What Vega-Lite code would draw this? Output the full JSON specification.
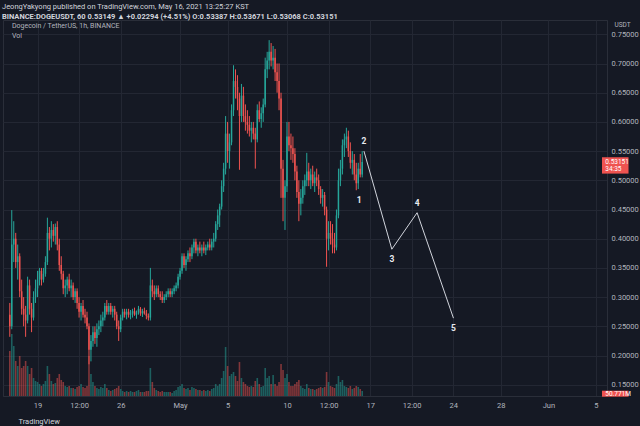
{
"$schema":"https://vega.github.io/schema/vega-lite/v6.json",
"width":604,"height":376,
"autosize":{"type":"none"},
"padding":{"left":3,"top":20,"right":33,"bottom":30},
"background":"#151924",
"config":{"view":{"stroke":"#2a2e39","fill":"#151924"},"font":"Roboto","text":{"font":"Roboto"}},
"title":{"text":"JeongYakyong published on TradingView.com, May 16, 2021 13:25:27 KST","subtitle":"BINANCE:DOGEUSDT, 60  0.53149 ▲ +0.02294 (+4.51%)  O:0.53387  H:0.53671  L:0.53068  C:0.53151","anchor":"start","frame":"group","fontSize":7.5,"fontWeight":"normal","color":"#d1d4dc","subtitleFontSize":7.5,"subtitleColor":"#d1d4dc","subtitleFontWeight":"bold","subtitlePadding":2.5,"offset":0,"dx":-1},
"datasets":{
"candles":[
{"t":"2021-04-16T16:00Z","o":0.27,"h":0.29,"l":0.232,"c":0.25,"v":450},
{"t":"2021-04-16T20:00Z","o":0.25,"h":0.449,"l":0.245,"c":0.39,"v":620},
{"t":"2021-04-17T00:00Z","o":0.39,"h":0.43,"l":0.36,"c":0.40,"v":500},
{"t":"2021-04-17T04:00Z","o":0.40,"h":0.41,"l":0.35,"c":0.36,"v":350},
{"t":"2021-04-17T08:00Z","o":0.36,"h":0.39,"l":0.33,"c":0.37,"v":300},
{"t":"2021-04-17T12:00Z","o":0.37,"h":0.375,"l":0.30,"c":0.31,"v":400},
{"t":"2021-04-17T16:00Z","o":0.31,"h":0.33,"l":0.27,"c":0.28,"v":280},
{"t":"2021-04-17T20:00Z","o":0.28,"h":0.30,"l":0.25,"c":0.27,"v":300},
{"t":"2021-04-18T00:00Z","o":0.27,"h":0.285,"l":0.232,"c":0.26,"v":350},
{"t":"2021-04-18T04:00Z","o":0.26,"h":0.335,"l":0.255,"c":0.32,"v":300},
{"t":"2021-04-18T08:00Z","o":0.32,"h":0.33,"l":0.27,"c":0.28,"v":220},
{"t":"2021-04-18T12:00Z","o":0.28,"h":0.29,"l":0.24,"c":0.265,"v":280},
{"t":"2021-04-18T16:00Z","o":0.265,"h":0.31,"l":0.26,"c":0.30,"v":180},
{"t":"2021-04-18T20:00Z","o":0.30,"h":0.33,"l":0.29,"c":0.315,"v":150},
{"t":"2021-04-19T00:00Z","o":0.315,"h":0.345,"l":0.30,"c":0.33,"v":140},
{"t":"2021-04-19T04:00Z","o":0.33,"h":0.35,"l":0.32,"c":0.345,"v":120},
{"t":"2021-04-19T08:00Z","o":0.345,"h":0.35,"l":0.32,"c":0.33,"v":100},
{"t":"2021-04-19T12:00Z","o":0.33,"h":0.35,"l":0.325,"c":0.34,"v":120},
{"t":"2021-04-19T16:00Z","o":0.34,"h":0.37,"l":0.335,"c":0.36,"v":150},
{"t":"2021-04-19T20:00Z","o":0.36,"h":0.436,"l":0.355,"c":0.41,"v":300},
{"t":"2021-04-20T00:00Z","o":0.41,"h":0.42,"l":0.38,"c":0.40,"v":220},
{"t":"2021-04-20T04:00Z","o":0.40,"h":0.43,"l":0.385,"c":0.415,"v":150},
{"t":"2021-04-20T08:00Z","o":0.415,"h":0.425,"l":0.395,"c":0.405,"v":120},
{"t":"2021-04-20T12:00Z","o":0.405,"h":0.426,"l":0.39,"c":0.42,"v":130},
{"t":"2021-04-20T16:00Z","o":0.42,"h":0.43,"l":0.38,"c":0.39,"v":180},
{"t":"2021-04-20T20:00Z","o":0.39,"h":0.40,"l":0.345,"c":0.355,"v":220},
{"t":"2021-04-21T00:00Z","o":0.355,"h":0.37,"l":0.33,"c":0.34,"v":160},
{"t":"2021-04-21T04:00Z","o":0.34,"h":0.345,"l":0.305,"c":0.315,"v":140},
{"t":"2021-04-21T08:00Z","o":0.315,"h":0.33,"l":0.30,"c":0.32,"v":100},
{"t":"2021-04-21T12:00Z","o":0.32,"h":0.335,"l":0.305,"c":0.33,"v":90},
{"t":"2021-04-21T16:00Z","o":0.33,"h":0.34,"l":0.31,"c":0.315,"v":100},
{"t":"2021-04-21T20:00Z","o":0.315,"h":0.33,"l":0.30,"c":0.32,"v":80},
{"t":"2021-04-22T00:00Z","o":0.32,"h":0.325,"l":0.295,"c":0.30,"v":80},
{"t":"2021-04-22T04:00Z","o":0.30,"h":0.315,"l":0.29,"c":0.31,"v":70},
{"t":"2021-04-22T08:00Z","o":0.31,"h":0.315,"l":0.28,"c":0.29,"v":90},
{"t":"2021-04-22T12:00Z","o":0.29,"h":0.30,"l":0.265,"c":0.275,"v":100},
{"t":"2021-04-22T16:00Z","o":0.275,"h":0.29,"l":0.26,"c":0.285,"v":120},
{"t":"2021-04-22T20:00Z","o":0.285,"h":0.295,"l":0.265,"c":0.27,"v":90},
{"t":"2021-04-23T00:00Z","o":0.27,"h":0.28,"l":0.255,"c":0.265,"v":80},
{"t":"2021-04-23T04:00Z","o":0.265,"h":0.275,"l":0.245,"c":0.25,"v":100},
{"t":"2021-04-23T08:00Z","o":0.25,"h":0.255,"l":0.185,"c":0.21,"v":400},
{"t":"2021-04-23T12:00Z","o":0.21,"h":0.235,"l":0.19,"c":0.225,"v":220},
{"t":"2021-04-23T16:00Z","o":0.225,"h":0.25,"l":0.215,"c":0.24,"v":140},
{"t":"2021-04-23T20:00Z","o":0.24,"h":0.25,"l":0.22,"c":0.23,"v":100},
{"t":"2021-04-24T00:00Z","o":0.23,"h":0.255,"l":0.215,"c":0.245,"v":80},
{"t":"2021-04-24T04:00Z","o":0.245,"h":0.26,"l":0.235,"c":0.25,"v":70},
{"t":"2021-04-24T08:00Z","o":0.25,"h":0.27,"l":0.24,"c":0.26,"v":90},
{"t":"2021-04-24T12:00Z","o":0.26,"h":0.275,"l":0.25,"c":0.265,"v":80},
{"t":"2021-04-24T16:00Z","o":0.265,"h":0.29,"l":0.26,"c":0.285,"v":120},
{"t":"2021-04-24T20:00Z","o":0.285,"h":0.295,"l":0.27,"c":0.275,"v":80},
{"t":"2021-04-25T00:00Z","o":0.275,"h":0.29,"l":0.27,"c":0.285,"v":60},
{"t":"2021-04-25T04:00Z","o":0.285,"h":0.29,"l":0.27,"c":0.275,"v":50},
{"t":"2021-04-25T08:00Z","o":0.275,"h":0.285,"l":0.265,"c":0.28,"v":60},
{"t":"2021-04-25T12:00Z","o":0.28,"h":0.285,"l":0.26,"c":0.27,"v":70},
{"t":"2021-04-25T16:00Z","o":0.27,"h":0.275,"l":0.245,"c":0.25,"v":80},
{"t":"2021-04-25T20:00Z","o":0.25,"h":0.26,"l":0.225,"c":0.245,"v":100},
{"t":"2021-04-26T00:00Z","o":0.245,"h":0.27,"l":0.24,"c":0.265,"v":70},
{"t":"2021-04-26T04:00Z","o":0.265,"h":0.28,"l":0.26,"c":0.275,"v":50},
{"t":"2021-04-26T08:00Z","o":0.275,"h":0.28,"l":0.265,"c":0.27,"v":40},
{"t":"2021-04-26T12:00Z","o":0.27,"h":0.28,"l":0.262,"c":0.275,"v":50},
{"t":"2021-04-26T16:00Z","o":0.275,"h":0.28,"l":0.265,"c":0.27,"v":40},
{"t":"2021-04-26T20:00Z","o":0.27,"h":0.278,"l":0.262,"c":0.272,"v":50},
{"t":"2021-04-27T00:00Z","o":0.272,"h":0.28,"l":0.265,"c":0.276,"v":40},
{"t":"2021-04-27T04:00Z","o":0.276,"h":0.282,"l":0.268,"c":0.27,"v":40},
{"t":"2021-04-27T08:00Z","o":0.27,"h":0.277,"l":0.263,"c":0.274,"v":50},
{"t":"2021-04-27T12:00Z","o":0.274,"h":0.285,"l":0.27,"c":0.28,"v":60},
{"t":"2021-04-27T16:00Z","o":0.28,"h":0.283,"l":0.268,"c":0.272,"v":40},
{"t":"2021-04-27T20:00Z","o":0.272,"h":0.28,"l":0.266,"c":0.276,"v":40},
{"t":"2021-04-28T00:00Z","o":0.276,"h":0.282,"l":0.27,"c":0.272,"v":40},
{"t":"2021-04-28T04:00Z","o":0.272,"h":0.278,"l":0.262,"c":0.268,"v":50},
{"t":"2021-04-28T08:00Z","o":0.268,"h":0.272,"l":0.26,"c":0.265,"v":50},
{"t":"2021-04-28T12:00Z","o":0.265,"h":0.35,"l":0.26,"c":0.32,"v":280},
{"t":"2021-04-28T16:00Z","o":0.32,"h":0.33,"l":0.30,"c":0.31,"v":140},
{"t":"2021-04-28T20:00Z","o":0.31,"h":0.32,"l":0.295,"c":0.305,"v":80},
{"t":"2021-04-29T00:00Z","o":0.305,"h":0.32,"l":0.30,"c":0.315,"v":60},
{"t":"2021-04-29T04:00Z","o":0.315,"h":0.32,"l":0.30,"c":0.305,"v":50},
{"t":"2021-04-29T08:00Z","o":0.305,"h":0.31,"l":0.295,"c":0.30,"v":40},
{"t":"2021-04-29T12:00Z","o":0.30,"h":0.31,"l":0.29,"c":0.295,"v":50},
{"t":"2021-04-29T16:00Z","o":0.295,"h":0.305,"l":0.29,"c":0.30,"v":40},
{"t":"2021-04-29T20:00Z","o":0.30,"h":0.31,"l":0.295,"c":0.305,"v":40},
{"t":"2021-04-30T00:00Z","o":0.305,"h":0.315,"l":0.30,"c":0.31,"v":40},
{"t":"2021-04-30T04:00Z","o":0.31,"h":0.315,"l":0.30,"c":0.305,"v":40},
{"t":"2021-04-30T08:00Z","o":0.305,"h":0.315,"l":0.30,"c":0.31,"v":30},
{"t":"2021-04-30T12:00Z","o":0.31,"h":0.32,"l":0.305,"c":0.315,"v":50},
{"t":"2021-04-30T16:00Z","o":0.315,"h":0.325,"l":0.31,"c":0.32,"v":60},
{"t":"2021-04-30T20:00Z","o":0.32,"h":0.34,"l":0.315,"c":0.335,"v":90},
{"t":"2021-05-01T00:00Z","o":0.335,"h":0.35,"l":0.33,"c":0.345,"v":100},
{"t":"2021-05-01T04:00Z","o":0.345,"h":0.375,"l":0.34,"c":0.37,"v":120},
{"t":"2021-05-01T08:00Z","o":0.37,"h":0.375,"l":0.35,"c":0.355,"v":80},
{"t":"2021-05-01T12:00Z","o":0.355,"h":0.37,"l":0.345,"c":0.365,"v":70},
{"t":"2021-05-01T16:00Z","o":0.365,"h":0.38,"l":0.36,"c":0.375,"v":80},
{"t":"2021-05-01T20:00Z","o":0.375,"h":0.385,"l":0.36,"c":0.37,"v":60},
{"t":"2021-05-02T00:00Z","o":0.37,"h":0.39,"l":0.365,"c":0.385,"v":90},
{"t":"2021-05-02T04:00Z","o":0.385,"h":0.40,"l":0.375,"c":0.395,"v":80},
{"t":"2021-05-02T08:00Z","o":0.395,"h":0.40,"l":0.375,"c":0.38,"v":70},
{"t":"2021-05-02T12:00Z","o":0.38,"h":0.39,"l":0.37,"c":0.385,"v":60},
{"t":"2021-05-02T16:00Z","o":0.385,"h":0.395,"l":0.375,"c":0.38,"v":60},
{"t":"2021-05-02T20:00Z","o":0.38,"h":0.39,"l":0.37,"c":0.385,"v":50},
{"t":"2021-05-03T00:00Z","o":0.385,"h":0.395,"l":0.375,"c":0.38,"v":60},
{"t":"2021-05-03T04:00Z","o":0.38,"h":0.39,"l":0.372,"c":0.385,"v":50},
{"t":"2021-05-03T08:00Z","o":0.385,"h":0.395,"l":0.38,"c":0.39,"v":60},
{"t":"2021-05-03T12:00Z","o":0.39,"h":0.40,"l":0.38,"c":0.385,"v":50},
{"t":"2021-05-03T16:00Z","o":0.385,"h":0.40,"l":0.38,"c":0.395,"v":70},
{"t":"2021-05-03T20:00Z","o":0.395,"h":0.41,"l":0.385,"c":0.40,"v":80},
{"t":"2021-05-04T00:00Z","o":0.40,"h":0.43,"l":0.395,"c":0.425,"v":120},
{"t":"2021-05-04T04:00Z","o":0.425,"h":0.45,"l":0.415,"c":0.44,"v":100},
{"t":"2021-05-04T08:00Z","o":0.44,"h":0.46,"l":0.42,"c":0.455,"v":120},
{"t":"2021-05-04T12:00Z","o":0.455,"h":0.50,"l":0.45,"c":0.49,"v":180},
{"t":"2021-05-04T16:00Z","o":0.49,"h":0.53,"l":0.48,"c":0.52,"v":250},
{"t":"2021-05-04T20:00Z","o":0.52,"h":0.61,"l":0.51,"c":0.58,"v":490},
{"t":"2021-05-05T00:00Z","o":0.58,"h":0.60,"l":0.53,"c":0.55,"v":300},
{"t":"2021-05-05T04:00Z","o":0.55,"h":0.58,"l":0.52,"c":0.565,"v":200},
{"t":"2021-05-05T08:00Z","o":0.565,"h":0.63,"l":0.56,"c":0.62,"v":220},
{"t":"2021-05-05T12:00Z","o":0.62,"h":0.697,"l":0.61,"c":0.67,"v":240},
{"t":"2021-05-05T16:00Z","o":0.67,"h":0.69,"l":0.64,"c":0.66,"v":200},
{"t":"2021-05-05T20:00Z","o":0.66,"h":0.68,"l":0.62,"c":0.64,"v":150},
{"t":"2021-05-06T00:00Z","o":0.64,"h":0.65,"l":0.518,"c":0.61,"v":340},
{"t":"2021-05-06T04:00Z","o":0.61,"h":0.665,"l":0.60,"c":0.645,"v":180},
{"t":"2021-05-06T08:00Z","o":0.645,"h":0.66,"l":0.60,"c":0.61,"v":140},
{"t":"2021-05-06T12:00Z","o":0.61,"h":0.63,"l":0.585,"c":0.60,"v":120},
{"t":"2021-05-06T16:00Z","o":0.60,"h":0.62,"l":0.58,"c":0.595,"v":100},
{"t":"2021-05-06T20:00Z","o":0.595,"h":0.61,"l":0.575,"c":0.585,"v":90},
{"t":"2021-05-07T00:00Z","o":0.585,"h":0.60,"l":0.565,"c":0.59,"v":100},
{"t":"2021-05-07T04:00Z","o":0.59,"h":0.60,"l":0.57,"c":0.58,"v":90},
{"t":"2021-05-07T08:00Z","o":0.58,"h":0.59,"l":0.52,"c":0.57,"v":150},
{"t":"2021-05-07T12:00Z","o":0.57,"h":0.63,"l":0.565,"c":0.62,"v":180},
{"t":"2021-05-07T16:00Z","o":0.62,"h":0.635,"l":0.60,"c":0.605,"v":120},
{"t":"2021-05-07T20:00Z","o":0.605,"h":0.625,"l":0.59,"c":0.615,"v":90},
{"t":"2021-05-08T00:00Z","o":0.615,"h":0.64,"l":0.60,"c":0.63,"v":100},
{"t":"2021-05-08T04:00Z","o":0.63,"h":0.71,"l":0.625,"c":0.69,"v":280},
{"t":"2021-05-08T08:00Z","o":0.69,"h":0.72,"l":0.675,"c":0.705,"v":180},
{"t":"2021-05-08T12:00Z","o":0.705,"h":0.74,"l":0.69,"c":0.72,"v":200},
{"t":"2021-05-08T16:00Z","o":0.72,"h":0.735,"l":0.695,"c":0.705,"v":120},
{"t":"2021-05-08T20:00Z","o":0.705,"h":0.73,"l":0.69,"c":0.71,"v":210},
{"t":"2021-05-09T00:00Z","o":0.71,"h":0.725,"l":0.67,"c":0.685,"v":120},
{"t":"2021-05-09T04:00Z","o":0.685,"h":0.70,"l":0.65,"c":0.67,"v":100},
{"t":"2021-05-09T08:00Z","o":0.67,"h":0.70,"l":0.62,"c":0.64,"v":140},
{"t":"2021-05-09T12:00Z","o":0.64,"h":0.65,"l":0.47,"c":0.52,"v":320},
{"t":"2021-05-09T16:00Z","o":0.52,"h":0.535,"l":0.43,"c":0.47,"v":260},
{"t":"2021-05-09T20:00Z","o":0.47,"h":0.50,"l":0.415,"c":0.49,"v":180},
{"t":"2021-05-10T00:00Z","o":0.49,"h":0.60,"l":0.48,"c":0.575,"v":220},
{"t":"2021-05-10T04:00Z","o":0.575,"h":0.60,"l":0.55,"c":0.56,"v":140},
{"t":"2021-05-10T08:00Z","o":0.56,"h":0.58,"l":0.535,"c":0.555,"v":100},
{"t":"2021-05-10T12:00Z","o":0.555,"h":0.575,"l":0.53,"c":0.545,"v":100},
{"t":"2021-05-10T16:00Z","o":0.545,"h":0.555,"l":0.50,"c":0.515,"v":120},
{"t":"2021-05-10T20:00Z","o":0.515,"h":0.525,"l":0.47,"c":0.48,"v":140},
{"t":"2021-05-11T00:00Z","o":0.48,"h":0.50,"l":0.43,"c":0.46,"v":160},
{"t":"2021-05-11T04:00Z","o":0.46,"h":0.485,"l":0.44,"c":0.47,"v":100},
{"t":"2021-05-11T08:00Z","o":0.47,"h":0.50,"l":0.46,"c":0.49,"v":80},
{"t":"2021-05-11T12:00Z","o":0.49,"h":0.51,"l":0.475,"c":0.50,"v":70},
{"t":"2021-05-11T16:00Z","o":0.50,"h":0.547,"l":0.49,"c":0.515,"v":120},
{"t":"2021-05-11T20:00Z","o":0.515,"h":0.53,"l":0.49,"c":0.50,"v":80},
{"t":"2021-05-12T00:00Z","o":0.50,"h":0.52,"l":0.485,"c":0.51,"v":70},
{"t":"2021-05-12T04:00Z","o":0.51,"h":0.525,"l":0.49,"c":0.495,"v":70},
{"t":"2021-05-12T08:00Z","o":0.495,"h":0.515,"l":0.48,"c":0.505,"v":60},
{"t":"2021-05-12T12:00Z","o":0.505,"h":0.52,"l":0.49,"c":0.50,"v":70},
{"t":"2021-05-12T16:00Z","o":0.50,"h":0.51,"l":0.475,"c":0.485,"v":80},
{"t":"2021-05-12T20:00Z","o":0.485,"h":0.49,"l":0.46,"c":0.47,"v":90},
{"t":"2021-05-13T00:00Z","o":0.47,"h":0.485,"l":0.455,"c":0.475,"v":80},
{"t":"2021-05-13T04:00Z","o":0.475,"h":0.48,"l":0.44,"c":0.45,"v":90},
{"t":"2021-05-13T08:00Z","o":0.45,"h":0.455,"l":0.352,"c":0.40,"v":240},
{"t":"2021-05-13T12:00Z","o":0.40,"h":0.43,"l":0.38,"c":0.41,"v":140},
{"t":"2021-05-13T16:00Z","o":0.41,"h":0.43,"l":0.39,"c":0.40,"v":100},
{"t":"2021-05-13T20:00Z","o":0.40,"h":0.425,"l":0.375,"c":0.39,"v":90},
{"t":"2021-05-14T00:00Z","o":0.39,"h":0.41,"l":0.375,"c":0.385,"v":80},
{"t":"2021-05-14T04:00Z","o":0.385,"h":0.45,"l":0.38,"c":0.44,"v":120},
{"t":"2021-05-14T08:00Z","o":0.44,"h":0.52,"l":0.435,"c":0.50,"v":200},
{"t":"2021-05-14T12:00Z","o":0.50,"h":0.535,"l":0.49,"c":0.52,"v":140},
{"t":"2021-05-14T16:00Z","o":0.52,"h":0.57,"l":0.51,"c":0.56,"v":160},
{"t":"2021-05-14T20:00Z","o":0.56,"h":0.58,"l":0.54,"c":0.57,"v":100},
{"t":"2021-05-15T00:00Z","o":0.57,"h":0.59,"l":0.555,"c":0.575,"v":90},
{"t":"2021-05-15T04:00Z","o":0.575,"h":0.585,"l":0.54,"c":0.55,"v":80},
{"t":"2021-05-15T08:00Z","o":0.55,"h":0.565,"l":0.52,"c":0.53,"v":100},
{"t":"2021-05-15T12:00Z","o":0.53,"h":0.55,"l":0.51,"c":0.535,"v":70},
{"t":"2021-05-15T16:00Z","o":0.535,"h":0.545,"l":0.50,"c":0.51,"v":80},
{"t":"2021-05-15T20:00Z","o":0.51,"h":0.53,"l":0.483,"c":0.495,"v":100},
{"t":"2021-05-16T00:00Z","o":0.495,"h":0.53,"l":0.485,"c":0.52,"v":90},
{"t":"2021-05-16T04:00Z","o":0.52,"h":0.545,"l":0.505,"c":0.51,"v":70},
{"t":"2021-05-16T08:00Z","o":0.51,"h":0.55,"l":0.505,"c":0.5315,"v":50}
],
"wave":[
{"t":"2021-05-16T11:30Z","p":0.55},
{"t":"2021-05-18T19:50Z","p":0.382},
{"t":"2021-05-20T22:50Z","p":0.4445},
{"t":"2021-05-24T00:20Z","p":0.264}
],
"waveLabels":[
{"t":"2021-05-16T01:40Z","p":0.4663,"n":"1"},
{"t":"2021-05-16T11:30Z","p":0.5673,"n":"2"},
{"t":"2021-05-18T19:50Z","p":0.3647,"n":"3"},
{"t":"2021-05-20T22:50Z","p":0.4616,"n":"4"},
{"t":"2021-05-24T00:20Z","p":0.247,"n":"5"}
],
"paneLabels":[
{"t":"2021-04-16T20:20Z","p":0.7635,"s":"Dogecoin / TetherUS, 1h, BINANCE"},
{"t":"2021-04-16T20:20Z","p":0.7465,"s":"Vol"}
],
"priceBox":[{"t":"2021-06-05T12:25Z","t2":"2021-06-07T18:00Z","p":0.5395,"p2":0.5115}],
"priceBoxText":[
{"t":"2021-06-05T19:00Z","p":0.5315,"s":"0.53151"},
{"t":"2021-06-05T19:00Z","p":0.519,"s":"34:35"}
],
"volBox":[{"t":"2021-06-05T12:25Z","t2":"2021-06-07T18:00Z","v":-7,"v2":53}],
"volBoxText":[{"t":"2021-06-05T19:00Z","v":23,"s":"50.771M"}]
},
"encoding":{
"x":{"field":"t","type":"temporal",
"scale":{"type":"utc","nice":false,"domain":[{"year":2021,"month":4,"date":16,"hours":12,"minutes":24,"utc":true},{"year":2021,"month":6,"date":5,"hours":12,"minutes":25,"utc":true}]},
"axis":{"values":[
{"year":2021,"month":4,"date":19,"utc":true},
{"year":2021,"month":4,"date":22,"hours":12,"utc":true},
{"year":2021,"month":4,"date":26,"utc":true},
{"year":2021,"month":5,"date":1,"utc":true},
{"year":2021,"month":5,"date":5,"utc":true},
{"year":2021,"month":5,"date":10,"utc":true},
{"year":2021,"month":5,"date":13,"hours":12,"utc":true},
{"year":2021,"month":5,"date":17,"utc":true},
{"year":2021,"month":5,"date":20,"hours":12,"utc":true},
{"year":2021,"month":5,"date":24,"utc":true},
{"year":2021,"month":5,"date":28,"utc":true},
{"year":2021,"month":6,"date":1,"utc":true},
{"year":2021,"month":6,"date":5,"utc":true}],
"tickCount":30,
"labelExpr":"utchours(datum.value) == 12 ? '12:00' : utcdate(datum.value) == 1 ? utcFormat(datum.value, '%b') : utcFormat(datum.value, '%-d')",
"grid":true,"gridColor":"#232733","domainColor":"#2a2e39","ticks":false,"labelColor":"#b2b5be","labelFontSize":7.5,"labelPadding":5,"labelFlush":false,"labelOverlap":false,
"title":"TradingView","titleAnchor":"start","titleAlign":"left","titleX":15,"titleY":25,"titleBaseline":"middle","titleColor":"#d1d4dc","titleFontSize":7.5,"titleFontWeight":"normal"}}
},
"layer":[
{"layer":[
{"data":{"name":"candles"},"mark":{"type":"rule","strokeWidth":1},
 "encoding":{"y":{"field":"l","type":"quantitative","scale":{"domain":[0.1307,0.7745],"nice":false,"zero":false},
  "axis":{"orient":"right","values":[0.15,0.2,0.25,0.3,0.35,0.4,0.45,0.5,0.55,0.6,0.65,0.7,0.75],"tickCount":30,"format":".5f","grid":true,"gridColor":"#232733","domainColor":"#2a2e39","ticks":false,"labelColor":"#b2b5be","labelFontSize":7.5,"labelPadding":4,"labelOverlap":false,"labelFlush":false,
   "title":"USDT","titleAngle":0,"titleX":15,"titleY":4,"titleAlign":"center","titleBaseline":"middle","titleColor":"#b2b5be","titleFontSize":6.5,"titleFontWeight":"normal"}},
  "y2":{"field":"h"},
  "color":{"condition":{"test":"datum.c >= datum.o","value":"#26a69a"},"value":"#ef5350"}}},
{"data":{"name":"candles"},"mark":{"type":"bar","size":1.5},
 "encoding":{"y":{"field":"o","type":"quantitative"},"y2":{"field":"c"},
  "color":{"condition":{"test":"datum.c >= datum.o","value":"#26a69a"},"value":"#ef5350"}}},
{"mark":{"type":"rule","color":"#ef5350","strokeWidth":1,"opacity":0.7},"encoding":{"x":null,"y":{"datum":0.53151,"type":"quantitative"}}},
{"data":{"name":"wave"},"mark":{"type":"line","color":"#d1d4dc","strokeWidth":1},"encoding":{"y":{"field":"p","type":"quantitative"}}},
{"data":{"name":"waveLabels"},"mark":{"type":"text","color":"#e8eaf0","fontSize":8.5,"fontWeight":"bold","baseline":"middle","align":"center"},"encoding":{"y":{"field":"p","type":"quantitative"},"text":{"field":"n"}}},
{"data":{"name":"paneLabels"},"mark":{"type":"text","color":"#b2b5be","fontSize":7,"baseline":"middle","align":"left"},"encoding":{"y":{"field":"p","type":"quantitative"},"text":{"field":"s"}}},
{"data":{"name":"priceBox"},"mark":{"type":"rect","color":"#ef5350"},"encoding":{"x2":{"field":"t2"},"y":{"field":"p","type":"quantitative"},"y2":{"field":"p2"}}},
{"data":{"name":"priceBoxText"},"mark":{"type":"text","color":"#ffffff","fontSize":6.5,"baseline":"middle","align":"left"},"encoding":{"y":{"field":"p","type":"quantitative"},"text":{"field":"s"}}}
]},
{"layer":[
{"data":{"name":"candles"},"mark":{"type":"bar","size":1.6,"opacity":0.5},
 "encoding":{"y":{"field":"v","type":"quantitative","scale":{"domain":[0,3760],"nice":false},"axis":null},
  "color":{"condition":{"test":"datum.c >= datum.o","value":"#26a69a"},"value":"#ef5350"}}},
{"data":{"name":"volBox"},"mark":{"type":"rect","color":"#ef5350"},"encoding":{"x2":{"field":"t2"},"y":{"field":"v","type":"quantitative"},"y2":{"field":"v2"}}},
{"data":{"name":"volBoxText"},"mark":{"type":"text","color":"#ffffff","fontSize":6.5,"baseline":"middle","align":"left"},"encoding":{"y":{"field":"v","type":"quantitative"},"text":{"field":"s"}}}
]}
],
"resolve":{"scale":{"y":"independent"}}
}
